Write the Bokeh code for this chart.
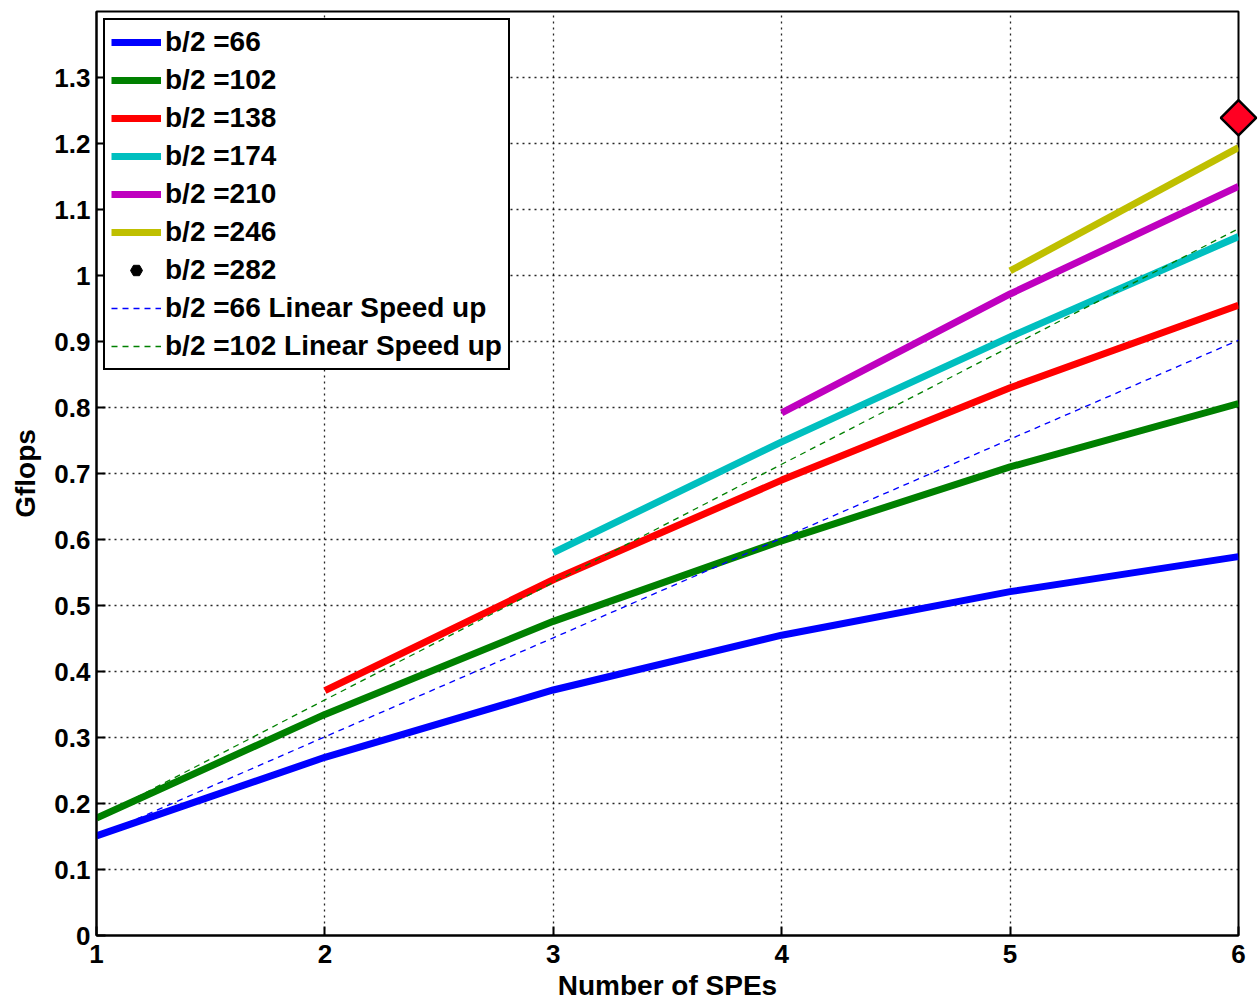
import numpy as np
from bokeh.plotting import figure
from bokeh.models import Legend, LegendItem, FixedTicker, Range1d
from bokeh.embed import file_html
from bokeh.resources import INLINE

spes = [1, 2, 3, 4, 5, 6]
b66 = [0.151, 0.270, 0.372, 0.455, 0.521, 0.574]
b102 = [0.178, 0.335, 0.476, 0.598, 0.710, 0.806]
b138_x = [2, 3, 4, 5, 6]
b138 = [0.371, 0.539, 0.690, 0.830, 0.955]
b174_x = [3, 4, 5, 6]
b174 = [0.580, 0.748, 0.907, 1.059]
b210_x = [4, 5, 6]
b210 = [0.792, 0.972, 1.135]
b246_x = [5, 6]
b246 = [1.007, 1.194]
b282_x = [6]
b282 = [1.239]
lin66 = [0.150, 0.301, 0.451, 0.602, 0.752, 0.902]
lin102 = [0.178, 0.357, 0.535, 0.714, 0.892, 1.071]

x_ticks = [1, 2, 3, 4, 5, 6]
y_ticks = [0, 0.1, 0.2, 0.3, 0.4, 0.5, 0.6, 0.7, 0.8, 0.9, 1.0, 1.1, 1.2, 1.3]
y_labels = {0: "0", 0.1: "0.1", 0.2: "0.2", 0.3: "0.3", 0.4: "0.4", 0.5: "0.5", 0.6: "0.6",
            0.7: "0.7", 0.8: "0.8", 0.9: "0.9", 1.0: "1", 1.1: "1.1", 1.2: "1.2", 1.3: "1.3"}

FONT = "Liberation Sans"

p = figure(width=1259, height=1008, output_backend="svg", toolbar_location=None,
           x_range=Range1d(1, 6), y_range=Range1d(0, 1.4),
           min_border_left=96, min_border_right=21, min_border_top=11, min_border_bottom=73)
p.background_fill_color = "white"
p.border_fill_color = "white"
p.outline_line_color = "black"
p.outline_line_width = 2

for ax in (p.xaxis[0], p.yaxis[0]):
    ax.axis_line_width = 2
    ax.axis_line_color = "black"
    ax.major_tick_in = 9
    ax.major_tick_out = 0
    ax.major_tick_line_width = 2
    ax.minor_tick_line_color = None
    ax.major_label_text_font = FONT
    ax.major_label_text_font_style = "bold"
    ax.major_label_text_font_size = "26px"
    ax.major_label_text_color = "black"
    ax.axis_label_text_font = FONT
    ax.axis_label_text_font_style = "bold"
    ax.axis_label_text_font_size = "28px"
    ax.axis_label_text_color = "black"

p.xaxis[0].ticker = FixedTicker(ticks=x_ticks)
p.yaxis[0].ticker = FixedTicker(ticks=y_ticks)
p.yaxis[0].major_label_overrides = y_labels
p.xaxis[0].axis_label = "Number of SPEs"
p.yaxis[0].axis_label = "Gflops"
p.xaxis[0].major_label_standoff = 9
p.yaxis[0].major_label_standoff = 6
p.xaxis[0].axis_label_standoff = 4
p.yaxis[0].axis_label_standoff = 10

p.xgrid.ticker = FixedTicker(ticks=x_ticks)
p.ygrid.ticker = FixedTicker(ticks=y_ticks)
for g in (p.xgrid[0], p.ygrid[0]):
    g.grid_line_color = "black"
    g.grid_line_dash = "2 4"
    g.grid_line_width = 1.3
    g.grid_line_alpha = 0.85

LW = 7
r66 = p.line(spes, b66, line_color="#0000ff", line_width=LW)
r102 = p.line(spes, b102, line_color="#008000", line_width=LW)
r138 = p.line(b138_x, b138, line_color="#ff0000", line_width=LW)
r174 = p.line(b174_x, b174, line_color="#00bfbf", line_width=LW)
r210 = p.line(b210_x, b210, line_color="#bf00bf", line_width=LW)
r246 = p.line(b246_x, b246, line_color="#bfbf00", line_width=LW)
rl66 = p.line(spes, lin66, line_color="#0000ff", line_width=1.3, line_dash="6 5")
rl102 = p.line(spes, lin102, line_color="#008000", line_width=1.3, line_dash="6 5")
r282 = p.scatter(b282_x, b282, marker="square", angle=np.pi / 4, size=25,
                 fill_color="#ff0022", line_color="black", line_width=2.5, level="overlay")
r282_leg = p.scatter([np.nan], [np.nan], marker="hex", size=14, fill_color="black",
                     line_color="black")

legend = Legend(items=[
    LegendItem(label="b/2 =66", renderers=[r66]),
    LegendItem(label="b/2 =102", renderers=[r102]),
    LegendItem(label="b/2 =138", renderers=[r138]),
    LegendItem(label="b/2 =174", renderers=[r174]),
    LegendItem(label="b/2 =210", renderers=[r210]),
    LegendItem(label="b/2 =246", renderers=[r246]),
    LegendItem(label="b/2 =282", renderers=[r282_leg]),
    LegendItem(label="b/2 =66 Linear Speed up", renderers=[rl66]),
    LegendItem(label="b/2 =102 Linear Speed up", renderers=[rl102]),
], location="top_left")
legend.label_text_font = FONT
legend.label_text_font_style = "bold"
legend.label_text_font_size = "28px"
legend.label_text_color = "black"
legend.glyph_width = 50
legend.glyph_height = 30
legend.label_height = 30
legend.spacing = 6
legend.padding = 6
legend.margin = 7
legend.label_standoff = 4
legend.border_line_color = "black"
legend.border_line_width = 2
legend.border_line_alpha = 1
legend.background_fill_alpha = 1
p.add_layout(legend, "center")

open("out.html", "w").write(file_html(p, INLINE))
